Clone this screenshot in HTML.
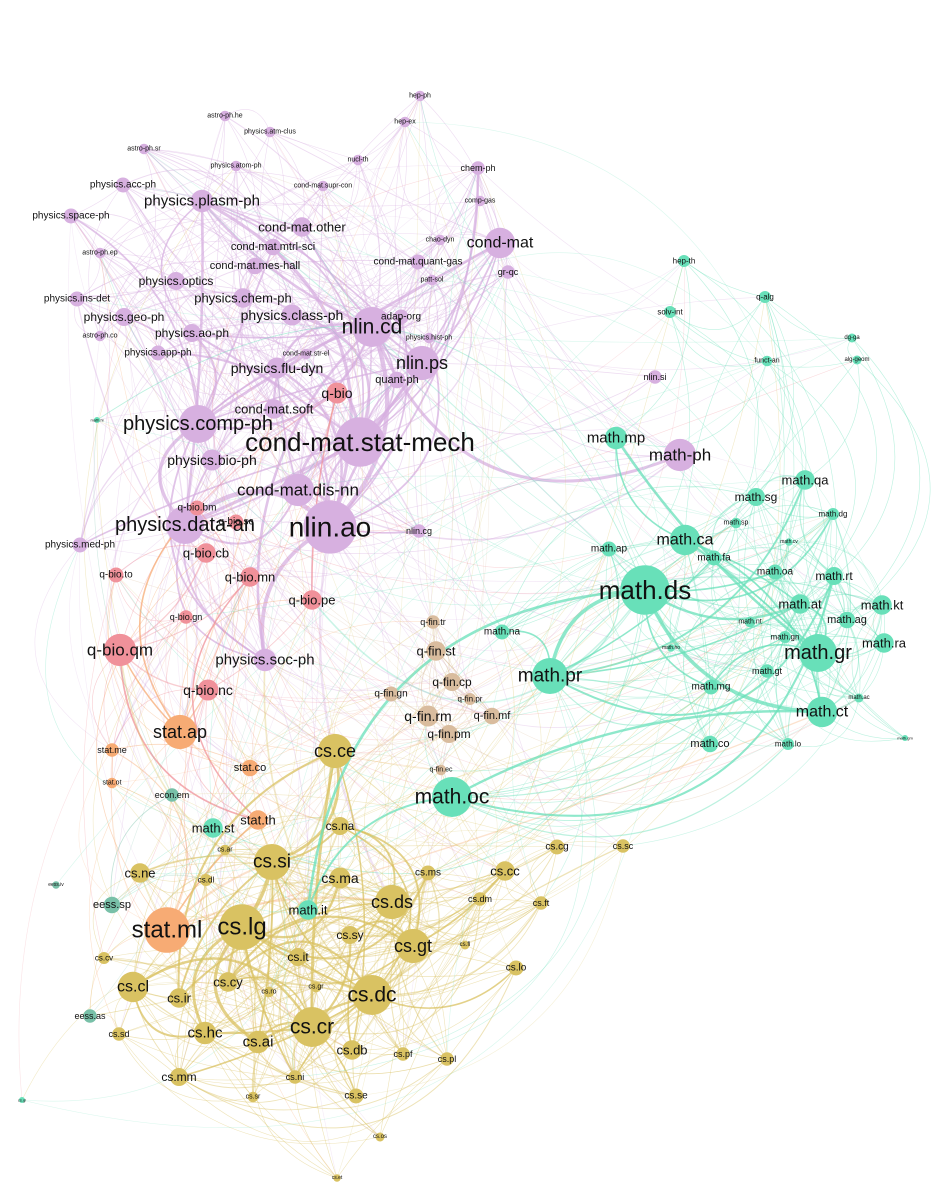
<!DOCTYPE html>
<html><head><meta charset="utf-8"><style>
html,body{margin:0;padding:0;background:#fff;}
svg{display:block;}
text{font-family:"Liberation Sans",Arial,sans-serif;fill:#111;text-anchor:middle;dominant-baseline:central;}
</style></head><body>
<svg id="g" width="943" height="1200" viewBox="0 0 943 1200" xmlns="http://www.w3.org/2000/svg">
<rect width="943" height="1200" fill="#fff"/>
<g id="edges"></g><g id="nodes"></g>
<g id="labels">
<text class="p" x="360" y="442" font-size="26">cond-mat.stat-mech</text>
<text class="p" x="330" y="527" font-size="28">nlin.ao</text>
<text class="p" x="198" y="424" font-size="20">physics.comp-ph</text>
<text class="p" x="185" y="525" font-size="20">physics.data-an</text>
<text class="p" x="298" y="490" font-size="17">cond-mat.dis-nn</text>
<text class="p" x="372" y="327" font-size="21">nlin.cd</text>
<text class="p" x="422" y="363" font-size="18">nlin.ps</text>
<text class="p" x="292" y="315" font-size="14">physics.class-ph</text>
<text class="p" x="212" y="460" font-size="14">physics.bio-ph</text>
<text class="p" x="202" y="201" font-size="15">physics.plasm-ph</text>
<text class="p" x="302" y="227" font-size="13">cond-mat.other</text>
<text class="p" x="273" y="247" font-size="11">cond-mat.mtrl-sci</text>
<text class="p" x="255" y="266" font-size="11">cond-mat.mes-hall</text>
<text class="p" x="243" y="298" font-size="13">physics.chem-ph</text>
<text class="p" x="176" y="281" font-size="12">physics.optics</text>
<text class="p" x="124" y="317" font-size="12">physics.geo-ph</text>
<text class="p" x="192" y="333" font-size="12">physics.ao-ph</text>
<text class="p" x="277" y="368" font-size="14">physics.flu-dyn</text>
<text class="p" x="158" y="353" font-size="10">physics.app-ph</text>
<text class="p" x="71" y="216" font-size="10">physics.space-ph</text>
<text class="p" x="123" y="185" font-size="10">physics.acc-ph</text>
<text class="p" x="77" y="299" font-size="10">physics.ins-det</text>
<text class="p" x="80" y="545" font-size="10">physics.med-ph</text>
<text class="p" x="500" y="243" font-size="16">cond-mat</text>
<text class="p" x="274" y="409" font-size="13">cond-mat.soft</text>
<text class="b" x="337" y="393" font-size="14">q-bio</text>
<text class="p" x="397" y="380" font-size="11">quant-ph</text>
<text class="p" x="401" y="317" font-size="10">adap-org</text>
<text class="p" x="478" y="168" font-size="9">chem-ph</text>
<text class="p" x="508" y="272" font-size="9">gr-qc</text>
<text class="p" x="418" y="262" font-size="10">cond-mat.quant-gas</text>
<text class="p" x="323" y="186" font-size="7">cond-mat.supr-con</text>
<text class="p" x="236" y="166" font-size="7">physics.atom-ph</text>
<text class="p" x="100" y="253" font-size="7">astro-ph.ep</text>
<text class="p" x="100" y="336" font-size="7">astro-ph.co</text>
<text class="p" x="429" y="338" font-size="7">physics.hist-ph</text>
<text class="p" x="306" y="354" font-size="7">cond-mat.str-el</text>
<text class="p" x="144" y="149" font-size="7">astro-ph.sr</text>
<text class="p" x="270" y="132" font-size="7">physics.atm-clus</text>
<text class="p" x="225" y="116" font-size="7">astro-ph.he</text>
<text class="p" x="358" y="160" font-size="7">nucl-th</text>
<text class="p" x="405" y="122" font-size="7">hep-ex</text>
<text class="p" x="420" y="96" font-size="7">hep-ph</text>
<text class="p" x="440" y="240" font-size="7">chao-dyn</text>
<text class="p" x="480" y="201" font-size="7">comp-gas</text>
<text class="p" x="432" y="280" font-size="7">patt-sol</text>
<text class="p" x="655" y="377" font-size="9">nlin.si</text>
<text class="p" x="419" y="531" font-size="9">nlin.cg</text>
<text class="p" x="680" y="455" font-size="17">math-ph</text>
<text class="b" x="120" y="650" font-size="17">q-bio.qm</text>
<text class="b" x="208" y="690" font-size="14">q-bio.nc</text>
<text class="b" x="312" y="600" font-size="13">q-bio.pe</text>
<text class="b" x="250" y="577" font-size="13">q-bio.mn</text>
<text class="b" x="206" y="553" font-size="13">q-bio.cb</text>
<text class="b" x="197" y="508" font-size="10">q-bio.bm</text>
<text class="b" x="236" y="522" font-size="10">q-bio.sc</text>
<text class="b" x="116" y="575" font-size="10">q-bio.to</text>
<text class="b" x="186" y="617" font-size="9">q-bio.gn</text>
<text class="p" x="265" y="660" font-size="15">physics.soc-ph</text>
<text class="f" x="436" y="651" font-size="13">q-fin.st</text>
<text class="f" x="452" y="682" font-size="12">q-fin.cp</text>
<text class="f" x="391" y="694" font-size="10">q-fin.gn</text>
<text class="f" x="428" y="716" font-size="14">q-fin.rm</text>
<text class="f" x="492" y="716" font-size="11">q-fin.mf</text>
<text class="f" x="449" y="734" font-size="12">q-fin.pm</text>
<text class="f" x="433" y="622" font-size="9">q-fin.tr</text>
<text class="f" x="470" y="699" font-size="8">q-fin.pr</text>
<text class="f" x="441" y="770" font-size="7">q-fin.ec</text>
<text class="s" x="180" y="732" font-size="18">stat.ap</text>
<text class="s" x="167" y="930" font-size="24">stat.ml</text>
<text class="s" x="258" y="820" font-size="13">stat.th</text>
<text class="s" x="250" y="768" font-size="11">stat.co</text>
<text class="s" x="112" y="750" font-size="9">stat.me</text>
<text class="s" x="112" y="783" font-size="7">stat.ot</text>
<text class="m" x="213" y="828" font-size="13">math.st</text>
<text class="e" x="172" y="795" font-size="9">econ.em</text>
<text class="c" x="242" y="927" font-size="24">cs.lg</text>
<text class="c" x="272" y="862" font-size="19">cs.si</text>
<text class="c" x="335" y="751" font-size="18">cs.ce</text>
<text class="c" x="312" y="1027" font-size="21">cs.cr</text>
<text class="c" x="372" y="995" font-size="21">cs.dc</text>
<text class="c" x="392" y="902" font-size="18">cs.ds</text>
<text class="c" x="413" y="946" font-size="18">cs.gt</text>
<text class="c" x="340" y="878" font-size="14">cs.ma</text>
<text class="c" x="340" y="826" font-size="12">cs.na</text>
<text class="c" x="140" y="873" font-size="13">cs.ne</text>
<text class="c" x="133" y="987" font-size="16">cs.cl</text>
<text class="c" x="205" y="1033" font-size="15">cs.hc</text>
<text class="c" x="258" y="1042" font-size="15">cs.ai</text>
<text class="c" x="179" y="1077" font-size="12">cs.mm</text>
<text class="c" x="179" y="998" font-size="13">cs.ir</text>
<text class="c" x="228" y="982" font-size="13">cs.cy</text>
<text class="c" x="352" y="1050" font-size="13">cs.db</text>
<text class="c" x="350" y="935" font-size="12">cs.sy</text>
<text class="c" x="298" y="957" font-size="12">cs.it</text>
<text class="c" x="428" y="873" font-size="10">cs.ms</text>
<text class="c" x="505" y="871" font-size="13">cs.cc</text>
<text class="c" x="557" y="847" font-size="10">cs.cg</text>
<text class="c" x="623" y="846" font-size="9">cs.sc</text>
<text class="c" x="480" y="899" font-size="9">cs.dm</text>
<text class="c" x="541" y="903" font-size="9">cs.ft</text>
<text class="c" x="516" y="968" font-size="10">cs.lo</text>
<text class="c" x="403" y="1054" font-size="9">cs.pf</text>
<text class="c" x="447" y="1059" font-size="9">cs.pl</text>
<text class="c" x="356" y="1096" font-size="10">cs.se</text>
<text class="c" x="295" y="1077" font-size="9">cs.ni</text>
<text class="c" x="119" y="1034" font-size="9">cs.sd</text>
<text class="c" x="104" y="958" font-size="8">cs.cv</text>
<text class="c" x="206" y="880" font-size="8">cs.dl</text>
<text class="c" x="225" y="850" font-size="7">cs.ar</text>
<text class="c" x="269" y="992" font-size="7">cs.ro</text>
<text class="c" x="316" y="987" font-size="7">cs.gr</text>
<text class="c" x="253" y="1097" font-size="7">cs.sr</text>
<text class="c" x="380" y="1137" font-size="6">cs.os</text>
<text class="c" x="337" y="1178" font-size="5">cs.et</text>
<text class="c" x="465" y="945" font-size="6">cs.fl</text>
<text class="e" x="112" y="905" font-size="11">eess.sp</text>
<text class="e" x="90" y="1016" font-size="9">eess.as</text>
<text class="e" x="56" y="885" font-size="5">eess.iv</text>
<text class="m" x="645" y="590" font-size="26">math.ds</text>
<text class="m" x="818" y="653" font-size="20">math.gr</text>
<text class="m" x="822" y="712" font-size="16">math.ct</text>
<text class="m" x="452" y="797" font-size="21">math.oc</text>
<text class="m" x="550" y="676" font-size="19">math.pr</text>
<text class="m" x="616" y="438" font-size="15">math.mp</text>
<text class="m" x="685" y="540" font-size="16">math.ca</text>
<text class="m" x="308" y="910" font-size="13">math.it</text>
<text class="m" x="805" y="480" font-size="13">math.qa</text>
<text class="m" x="756" y="497" font-size="12">math.sg</text>
<text class="m" x="882" y="605" font-size="13">math.kt</text>
<text class="m" x="884" y="643" font-size="13">math.ra</text>
<text class="m" x="847" y="620" font-size="11">math.ag</text>
<text class="m" x="800" y="604" font-size="13">math.at</text>
<text class="m" x="834" y="576" font-size="12">math.rt</text>
<text class="m" x="775" y="572" font-size="10">math.oa</text>
<text class="m" x="714" y="558" font-size="10">math.fa</text>
<text class="m" x="609" y="549" font-size="10">math.ap</text>
<text class="m" x="833" y="514" font-size="8">math.dg</text>
<text class="m" x="736" y="523" font-size="7">math.sp</text>
<text class="m" x="502" y="632" font-size="10">math.na</text>
<text class="m" x="711" y="687" font-size="10">math.mg</text>
<text class="m" x="710" y="744" font-size="11">math.co</text>
<text class="m" x="750" y="622" font-size="7">math.nt</text>
<text class="m" x="785" y="637" font-size="8">math.gn</text>
<text class="m" x="767" y="671" font-size="9">math.gt</text>
<text class="m" x="788" y="744" font-size="8">math.lo</text>
<text class="m" x="859" y="698" font-size="6">math.ac</text>
<text class="m" x="671" y="648" font-size="5">math.ho</text>
<text class="m" x="789" y="542" font-size="5">math.cv</text>
<text class="m" x="670" y="312" font-size="8">solv-int</text>
<text class="m" x="765" y="297" font-size="8">q-alg</text>
<text class="m" x="684" y="261" font-size="8">hep-th</text>
<text class="m" x="767" y="361" font-size="7">funct-an</text>
<text class="m" x="852" y="338" font-size="6">dg-ga</text>
<text class="m" x="857" y="360" font-size="6">alg-geom</text>
<text class="m" x="905" y="738" font-size="4">math.gm</text>
<text class="m" x="97" y="420" font-size="4">math.hi</text>
<text class="m" x="22" y="1100" font-size="4">cs.gl</text>
</g>
</svg>
<script>
(function(){
var col={p:"#d7b0e0",b:"#f0919a",f:"#d9bc9e",s:"#f7ab74",c:"#d9c262",m:"#68e0b9",e:"#78c0a8"};
var ns="http://www.w3.org/2000/svg";
var T=[].slice.call(document.querySelectorAll("#labels text"));
var N=T.map(function(t){var fs=+t.getAttribute("font-size");return{x:+t.getAttribute("x"),y:+t.getAttribute("y"),k:t.getAttribute("class"),fs:fs,r:Math.max(3,fs*(fs>15?0.95:0.75))};});
var s=12345;function R(){s=(s*1103515245+12345)%2147483648;return s/2147483648;}
var E=document.getElementById("edges"),G=document.getElementById("nodes");
function edge(a,b,w,op,c){var dx=b.x-a.x,dy=b.y-a.y,d=Math.sqrt(dx*dx+dy*dy);var k=(R()-0.5)*0.8+0.25;var cx=(a.x+b.x)/2-dy*k,cy=(a.y+b.y)/2+dx*k;var p=document.createElementNS(ns,"path");p.setAttribute("d","M"+a.x+" "+a.y+"Q"+cx+" "+cy+" "+b.x+" "+b.y);p.setAttribute("stroke",c);p.setAttribute("stroke-width",w);p.setAttribute("fill","none");p.setAttribute("stroke-opacity",op);E.appendChild(p);}
for(var i=0;i<N.length;i++)for(var j=i+1;j<N.length;j++){var a=N[i],b=N[j];var dx=b.x-a.x,dy=b.y-a.y,d=Math.sqrt(dx*dx+dy*dy);var same=a.k==b.k||(a.k=="s"&&b.k=="b")||(a.k=="b"&&b.k=="s");var sz=(a.fs+b.fs)/2;var pr=same?Math.exp(-d/(sz>14?260:170))*(sz/14):0.25*Math.exp(-d/200)*(sz/16);if(R()<pr){var w=Math.max(0.6,(a.fs*b.fs)/110*(same?1:0.6)*R());var big=a.fs>=a.fs&&(a.fs>=b.fs?a:b);edge(a,b,Math.min(w,4.5),same?(w>1.5?0.75:0.45):0.35,col[big.k]);}}
for(var q=0;q<140;q++){var a=N[Math.floor(R()*N.length)],b=N[Math.floor(R()*N.length)];if(a!==b)edge(a,b,0.6,0.25,col[a.k]);}
N.forEach(function(n){var c=document.createElementNS(ns,"circle");c.setAttribute("cx",n.x);c.setAttribute("cy",n.y);c.setAttribute("r",n.r);c.setAttribute("fill",col[n.k]);G.appendChild(c);});
})();
</script>
</body></html>
